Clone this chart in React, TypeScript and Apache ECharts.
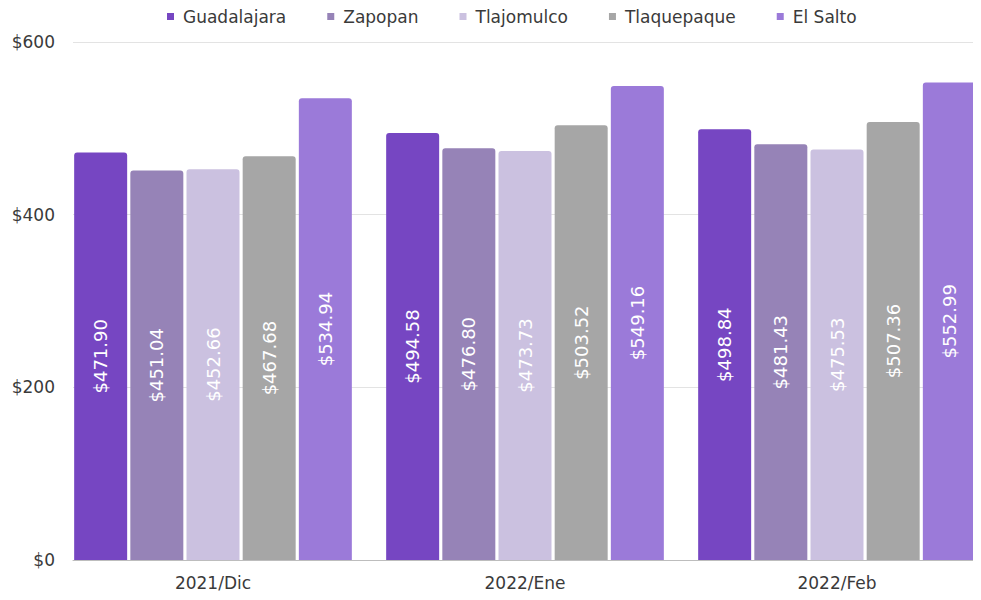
import React, { useEffect, useRef } from "react";
import * as echarts from "echarts";

const categories = ["2021/Dic", "2022/Ene", "2022/Feb"];
const seriesNames = ["Guadalajara", "Zapopan", "Tlajomulco", "Tlaquepaque", "El Salto"];
const guadalajara = [471.9, 494.58, 498.84];
const zapopan = [451.04, 476.8, 481.43];
const tlajomulco = [452.66, 473.73, 475.53];
const tlaquepaque = [467.68, 503.52, 507.36];
const elSalto = [534.94, 549.16, 552.99];
const yTicks = [0, 200, 400, 600];

const seriesValues = [guadalajara, zapopan, tlajomulco, tlaquepaque, elSalto];
const colors = ["#7646C2", "#9683B7", "#CBC1E0", "#A6A6A6", "#9B7AD9"];
const FONT = "'DejaVu Sans', 'Noto Sans', sans-serif";

export default function App() {
  const ref = useRef<HTMLDivElement>(null);
  useEffect(() => {
    if (!ref.current) return;
    const chart = echarts.init(ref.current, undefined, { renderer: "svg" });
    const yMax = yTicks[yTicks.length - 1];
    const interval = yTicks[1] - yTicks[0];
    chart.setOption({
      animation: false,
      textStyle: { fontFamily: FONT },
      legend: {
        top: 3,
        left: 162,
        itemWidth: 7,
        itemHeight: 7,
        itemGap: 41,
        icon: "rect",
        textStyle: { fontSize: 17, color: "#3a3a3a", fontFamily: FONT, padding: [0, 0, 0, 4] },
        data: seriesNames,
      },
      grid: [
        { left: 57, width: 936, top: 42, height: 518, containLabel: false },
        { left: 73, width: 905, top: 42, height: 518, containLabel: false },
      ],
      xAxis: [
        {
          type: "category",
          gridIndex: 0,
          data: categories,
          axisLine: { show: false },
          axisTick: { show: false },
          axisLabel: { fontSize: 17, color: "#3a3a3a", margin: 14, fontFamily: FONT },
        },
        {
          type: "category",
          gridIndex: 1,
          data: categories,
          axisLine: { show: true, lineStyle: { color: "#BDBDBD", width: 1 } },
          axisTick: { show: false },
          axisLabel: { show: false },
        },
      ],
      yAxis: [
        {
          type: "value",
          gridIndex: 0,
          min: 0,
          max: yMax,
          interval,
          splitLine: { show: false },
          axisLine: { show: false },
          axisTick: { show: false },
          axisLabel: {
            fontSize: 17,
            color: "#3a3a3a",
            margin: 2,
            fontFamily: FONT,
            formatter: (v: number) => "$" + v,
          },
        },
        {
          type: "value",
          gridIndex: 1,
          min: 0,
          max: yMax,
          interval,
          splitLine: { show: true, lineStyle: { color: "#E3E3E3", width: 1 } },
          axisLine: { show: false },
          axisTick: { show: false },
          axisLabel: { show: false },
        },
      ],
      series: seriesNames.map((name, i) => ({
        name,
        type: "bar",
        xAxisIndex: 0,
        yAxisIndex: 0,
        data: seriesValues[i],
        barGap: "6%",
        barCategoryGap: "11%",
        itemStyle: { color: colors[i], borderRadius: [3, 3, 0, 0] },
        label: {
          show: true,
          position: "inside",
          rotate: 90,
          color: "#fff",
          fontSize: 18,
          fontFamily: FONT,
          formatter: (p: any) => "$" + Number(p.value).toFixed(2),
        },
      })),
    });
    return () => chart.dispose();
  }, []);
  return (
    <div style={{ width: 981, height: 600, overflow: "hidden", marginLeft: -8, marginTop: -8 }}>
      <div ref={ref} style={{ width: 1000, height: 600 }} />
    </div>
  );
}
